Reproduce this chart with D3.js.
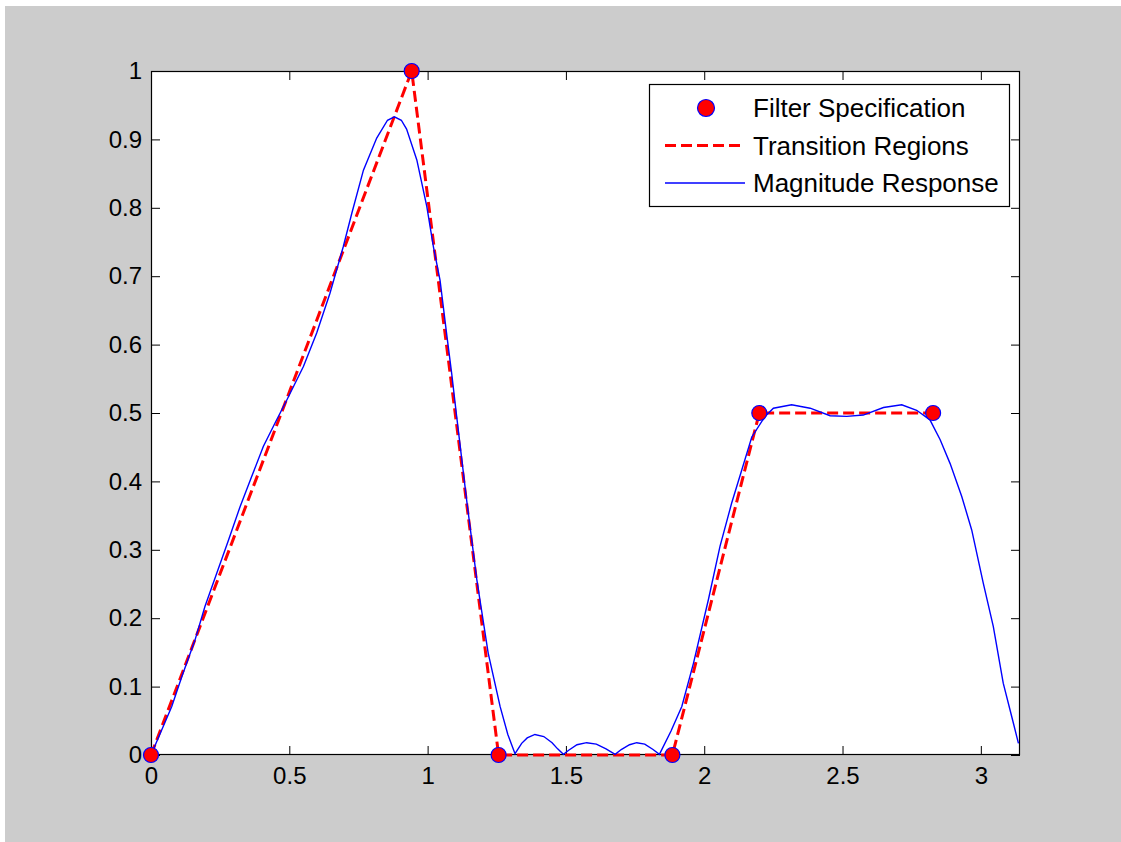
<!DOCTYPE html>
<html><head><meta charset="utf-8">
<script src="https://cdn.jsdelivr.net/npm/d3@7"></script>
<style>
html,body{margin:0;padding:0;background:#fff;}
svg{display:block;}
text{font-family:"Liberation Sans",Arial,Helvetica,sans-serif;fill:#000;}
</style></head>
<body>
<svg id="chart" width="1121" height="842"></svg>
<script>
// ---- data ----
const specFreq = [0, 0.3*Math.PI, 0.4*Math.PI, 0.6*Math.PI, 0.7*Math.PI, 0.9*Math.PI];
const specAmp  = [0, 1, 0, 0, 0.5, 0.5];
const respFreq = [0,0.075,0.111,0.159,0.195,0.238,0.280,0.322,0.364,0.406,0.448,0.491,0.551,0.599,0.647,0.695,0.726,0.768,0.816,0.855,0.880,0.905,0.924,0.961,0.997,1.021,1.045,1.069,1.087,1.105,1.141,1.178,1.219,1.262,1.290,1.316,1.34,1.36,1.388,1.42,1.45,1.47,1.491,1.51,1.54,1.575,1.61,1.645,1.678,1.70,1.73,1.756,1.785,1.815,1.838,1.88,1.919,1.961,2.015,2.057,2.099,2.136,2.172,2.220,2.250,2.316,2.383,2.455,2.515,2.575,2.648,2.714,2.768,2.816,2.853,2.889,2.931,2.967,3.009,3.045,3.081,3.118,3.136];
const respMag  = [0,0.071,0.114,0.168,0.217,0.266,0.314,0.363,0.407,0.451,0.485,0.519,0.568,0.617,0.675,0.743,0.792,0.855,0.902,0.928,0.933,0.928,0.915,0.870,0.802,0.743,0.694,0.615,0.558,0.495,0.373,0.256,0.149,0.071,0.030,0.002,0.017,0.025,0.030,0.027,0.018,0.009,0.001,0.007,0.015,0.018,0.016,0.009,0.001,0.008,0.015,0.018,0.016,0.008,0.001,0.035,0.071,0.134,0.227,0.305,0.368,0.417,0.465,0.495,0.507,0.512,0.507,0.496,0.495,0.497,0.508,0.512,0.504,0.490,0.461,0.426,0.378,0.329,0.251,0.188,0.105,0.046,0.017];
const xTickValues = [0, 0.5, 1, 1.5, 2, 2.5, 3];
const xTickLabels = ["0", "0.5", "1", "1.5", "2", "2.5", "3"];
const yTickValues = [0, 0.1, 0.2, 0.3, 0.4, 0.5, 0.6, 0.7, 0.8, 0.9, 1];
const yTickLabels = ["0", "0.1", "0.2", "0.3", "0.4", "0.5", "0.6", "0.7", "0.8", "0.9", "1"];
const legendLabels = ["Filter Specification", "Transition Regions", "Magnitude Response"];

// ---- layout ----
const svg = d3.select("#chart");
const L = 151, R = 1020, T = 71, B = 755;
svg.append("rect").attr("x",5).attr("y",6).attr("width",1121-5).attr("height",842-6).attr("fill","#cccccc");
svg.append("rect").attr("x",L).attr("y",T).attr("width",R-L).attr("height",B-T).attr("fill","#fff");

const x = d3.scaleLinear().domain([0, Math.PI]).range([L, R]);
const y = d3.scaleLinear().domain([0, 1]).range([B, T]);

const fs = 24;
function styleAxis(g){
  g.select(".domain").remove();
  g.selectAll(".tick line").attr("stroke","#000").attr("stroke-width",1);
  g.selectAll(".tick text").attr("font-size",fs).attr("fill","#000");
}
const xl = d => xTickLabels[xTickValues.indexOf(d)];
const yl = d => yTickLabels[yTickValues.indexOf(d)];

svg.append("g").attr("transform",`translate(0,${B})`)
  .call(d3.axisBottom(x).tickValues(xTickValues).tickFormat(xl).tickSizeInner(-9).tickSizeOuter(0).tickPadding(12)).call(styleAxis);
svg.append("g").attr("transform",`translate(0,${T})`)
  .call(d3.axisTop(x).tickValues(xTickValues).tickFormat("").tickSizeInner(-9).tickSizeOuter(0)).call(styleAxis);
svg.append("g").attr("transform",`translate(${L},0)`)
  .call(d3.axisLeft(y).tickValues(yTickValues).tickFormat(yl).tickSizeInner(-9).tickSizeOuter(0).tickPadding(9)).call(styleAxis);
svg.append("g").attr("transform",`translate(${R},0)`)
  .call(d3.axisRight(y).tickValues(yTickValues).tickFormat("").tickSizeInner(-9).tickSizeOuter(0)).call(styleAxis);

svg.append("rect").attr("x",L+0.5).attr("y",T+0.5).attr("width",R-L-1).attr("height",B-T-1)
  .attr("fill","none").attr("stroke","#000").attr("stroke-width",1.2);

// ---- marks ----
const spec = specFreq.map((f,i)=>({f, a:specAmp[i]}));
const resp = respFreq.map((f,i)=>({f, a:respMag[i]}));
const line = d3.line().x(d=>x(d.f)).y(d=>y(d.a));

svg.append("path").datum(spec).attr("d",line).attr("fill","none")
  .attr("stroke","#ff0000").attr("stroke-width",3).attr("stroke-dasharray","11,5");
svg.append("path").datum(resp).attr("d",line).attr("fill","none")
  .attr("stroke","#0000ff").attr("stroke-width",1.4);
svg.append("g").selectAll("circle").data(spec).join("circle")
  .attr("cx",d=>x(d.f)).attr("cy",d=>y(d.a)).attr("r",7.5)
  .attr("fill","#ff0000").attr("stroke","#0000ff").attr("stroke-width",1.2);

// ---- legend ----
const lg = svg.append("g");
lg.append("rect").attr("x",649.5).attr("y",84.5).attr("width",360).attr("height",122)
  .attr("fill","#fff").attr("stroke","#000").attr("stroke-width",1.2);
const rowY = [108, 145.5, 183];
lg.append("circle").attr("cx",706).attr("cy",rowY[0]).attr("r",8.5)
  .attr("fill","#ff0000").attr("stroke","#0000ff").attr("stroke-width",1.2);
lg.append("line").attr("x1",665).attr("x2",742).attr("y1",rowY[1]).attr("y2",rowY[1])
  .attr("stroke","#ff0000").attr("stroke-width",3).attr("stroke-dasharray","11,5");
lg.append("line").attr("x1",665).attr("x2",745).attr("y1",rowY[2]).attr("y2",rowY[2])
  .attr("stroke","#0000ff").attr("stroke-width",1.4);
lg.selectAll("text.lab").data(legendLabels).join("text").attr("class","lab")
  .attr("x",753).attr("y",(d,i)=>rowY[i]).attr("dy","0.36em").attr("font-size",26).text(d=>d);
</script>
</body></html>
